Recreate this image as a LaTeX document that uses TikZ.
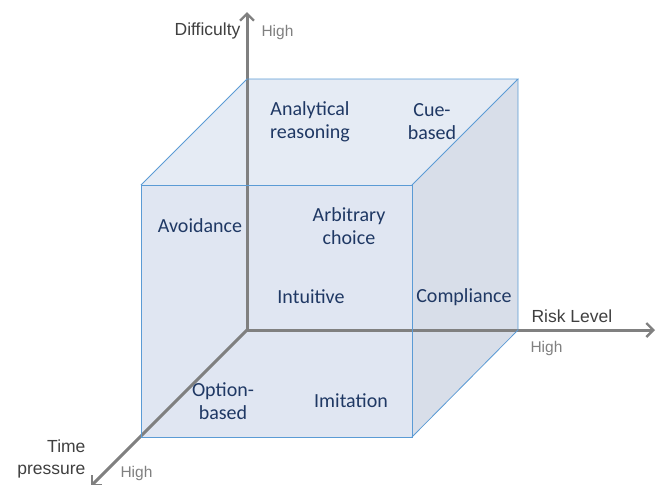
\documentclass[tikz,border=0pt]{standalone}
\usepackage{fontspec}
\setmainfont{Carlito}
\newfontfamily\axisfont{Liberation Sans}
\usetikzlibrary{arrows.meta}
\definecolor{edgeblue}{RGB}{91,155,213}
\definecolor{topfill}{RGB}{229,235,244}
\definecolor{frontfill}{RGB}{224,230,242}
\definecolor{sidefill}{RGB}{216,222,233}
\definecolor{textnavy}{RGB}{31,56,100}
\definecolor{axisgray}{RGB}{128,128,128}
\definecolor{labelgray}{RGB}{64,64,64}

\tikzset{
  face/.style={draw=edgeblue, line width=0.8pt},
  axis/.style={draw=axisgray, line width=3pt, -{Straight Barb[length=7pt,width=14pt,line width=2.4pt]}},
  zone/.style={text=textnavy, font=\fontsize{20}{23}\selectfont, align=center},
  axislabel/.style={text=labelgray, font=\axisfont\fontsize{17.5}{22}\selectfont},
  highlabel/.style={text=axisgray, font=\axisfont\fontsize{15.5}{18}\selectfont}
}

\begin{document}
\begin{tikzpicture}[x=1pt, y=-1pt]
    \useasboundingbox (0,0) rectangle (657,485);

    % Cube corners
    \coordinate (backTL) at (247,79);
    \coordinate (backTR) at (518,79);
    \coordinate (backBR) at (518,330);
    \coordinate (origin) at (247,330);
    \coordinate (frontTL) at (141,185);
    \coordinate (frontTR) at (412,185);
    \coordinate (frontBR) at (412,437);
    \coordinate (frontBL) at (141,437);

    % Faces
    \fill[topfill] (frontTL) -- (backTL) -- (backTR) -- (frontTR) -- cycle;
    \fill[sidefill] (frontTR) -- (backTR) -- (backBR) -- (frontBR) -- cycle;
    \fill[frontfill] (frontTL) rectangle (frontBR);

    % Axes
    \coordinate (diffTip) at (247,12);
    \coordinate (riskTip) at (655,330);
    \coordinate (timeTip) at (91,486);
    \draw[axis] (origin) -- (diffTip);
    \draw[axis] (origin) -- (riskTip);
    \draw[axis] (origin) -- (timeTip);

    % Edges
    \draw[face] (frontTL) -- (backTL) -- (backTR) -- (frontTR);
    \draw[face] (backTR) -- (backBR) -- (frontBR);
    \draw[face] (frontTL) rectangle (frontBR);

    % Axis labels
    \node[axislabel, anchor=east] (difficulty) at (244,31) {Difficulty};
    \node[highlabel, anchor=west] (diffHigh) at (258,32) {High};
    \node[axislabel, anchor=west] (risk) at (528,316) {Risk Level};
    \node[highlabel, anchor=west] (riskHigh) at (527,348) {High};
    \node[axislabel, anchor=east, align=right] (time) at (89,459) {Time\\pressure};
    \node[highlabel, anchor=west] (timeHigh) at (117,473) {High};

    % Zones
    \node[zone] (analytical) at (310,122) {Analytical\\reasoning};
    \node[zone] (cue) at (432,122) {Cue-\\based};
    \node[zone] (avoidance) at (200,226) {Avoidance};
    \node[zone] (arbitrary) at (349,226) {Arbitrary\\choice};
    \node[zone] (intuitive) at (311,297) {Intuitive};
    \node[zone] (compliance) at (464,297) {Compliance};
    \node[zone] (option) at (223,401) {Option-\\based};
    \node[zone] (imitation) at (351,401) {Imitation};
\end{tikzpicture}
\end{document}
